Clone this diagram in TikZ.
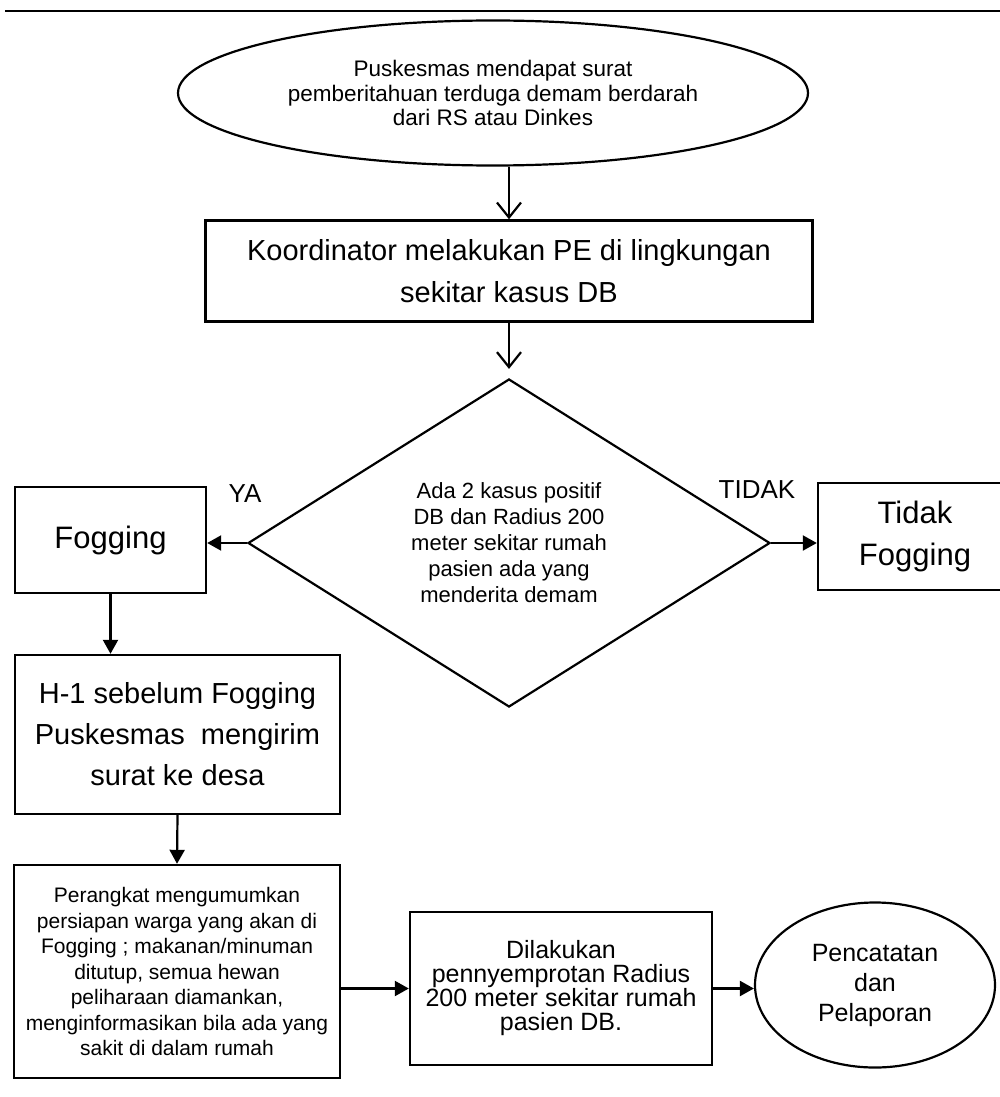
\documentclass[tikz,border=0pt]{standalone}
\usepackage{fontspec}
\setmainfont{Liberation Sans}
\usetikzlibrary{shapes.geometric,arrows.meta}
\newcommand\myfs[2]{\fontsize{#1pt}{#2pt}\selectfont}
\begin{document}
\begin{tikzpicture}[x=1pt,y=-1pt,
  boxstyle/.style={draw, line width=2.4pt, rectangle, inner sep=0pt, align=center},
  ellstyle/.style={draw, line width=2.2pt, ellipse, inner sep=0pt, align=center},
  openarr/.style={line width=2.2pt, -{Straight Barb[length=15pt,width=24pt,line width=2.2pt]}},
  fillarr/.style={line width=2.2pt, -{Triangle[length=14pt,width=15pt]}},
  lbl/.style={inner sep=0pt, font=\myfs{26}{30}}]
\useasboundingbox (0,0) rectangle (1000,1097);
\draw[line width=2.2pt] (5,11) -- (1000,11);

\node[ellstyle, minimum width=630pt, minimum height=145pt, font=\myfs{22.5}{24.5}] (start) at (493,93)
  {Puskesmas mendapat surat\\pemberitahuan terduga demam berdarah\\dari RS atau Dinkes};

\node[boxstyle, minimum width=607pt, minimum height=101pt, font=\myfs{29}{42}] (koord) at (509,271)
  {\raisebox{-4pt}{\parbox{600pt}{\centering Koordinator melakukan PE di lingkungan\\sekitar kasus DB}}};

\node[draw, line width=2.2pt, diamond, shape aspect=1.6, minimum width=522pt, minimum height=328pt,
  inner sep=0pt, align=center, font=\myfs{22}{26}] (dia) at (509,543)
  {Ada 2 kasus positif\\DB dan Radius 200\\meter sekitar rumah\\pasien ada yang\\menderita demam};

\node[boxstyle, minimum width=191pt, minimum height=106pt, font=\myfs{31}{36}] (fog) at (110.5,540) {Fogging};
\node[boxstyle, minimum width=194pt, minimum height=107pt, font=\myfs{31}{42}] (tidak) at (915,536.5) {Tidak\\Fogging};

\node[lbl] (ya) at (245,494) {YA};
\node[lbl] (tdk) at (757,490) {TIDAK};

\node[boxstyle, minimum width=325pt, minimum height=159pt, font=\myfs{29}{41}] (hsatu) at (177.5,734.5)
  {H-1 sebelum Fogging\\Puskesmas\ \ mengirim\\surat ke desa};

\node[boxstyle, minimum width=326pt, minimum height=213pt, font=\myfs{21}{25.5}] (umum) at (177,971.5)
  {Perangkat mengumumkan\\persiapan warga yang akan di\\Fogging ; makanan/minuman\\ditutup, semua hewan\\peliharaan diamankan,\\menginformasikan bila ada yang\\sakit di dalam rumah};

\node[boxstyle, minimum width=302pt, minimum height=153pt, font=\myfs{25}{24}] (semprot) at (561,988.5)
  {Dilakukan\\pennyemprotan Radius\\200 meter sekitar rumah\\pasien DB.};

\node[ellstyle, minimum width=240pt, minimum height=165pt, font=\myfs{25}{30}] (catat) at (875,985)
  {Pencatatan\\dan\\Pelaporan};

\draw[openarr] (koord.north |- start.south) -- (koord.north);
\draw[openarr, shorten >=9pt] (koord.south) -- (dia.north);
\draw[fillarr] (dia.west) -- (dia.west -| fog.east);
\draw[fillarr] (dia.east) -- (dia.east -| tidak.west);
\draw[fillarr] (fog.south) -- (fog.south |- hsatu.north);
\draw[fillarr] (hsatu.south) -- (umum.north);
\draw[fillarr] (umum.east |- semprot.west) -- (semprot.west);
\draw[fillarr] (semprot.east) -- (semprot.east -| catat.west);
\end{tikzpicture}
\end{document}
